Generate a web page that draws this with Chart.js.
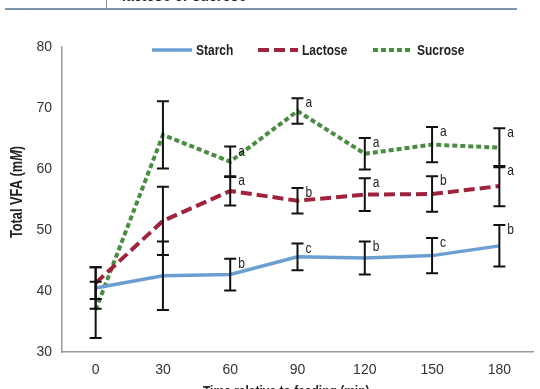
<!DOCTYPE html>
<html>
<head>
<meta charset="utf-8">
<script src="https://cdn.jsdelivr.net/npm/chart.js@4/dist/chart.umd.min.js"></script>
<style>
  body { margin: 0; background: #fff; }
  #wrap { position: relative; width: 540px; height: 389px; overflow: hidden; }
  #rule { position: absolute; left: 5px; top: 8px; width: 512px; height: 2px; background: #7f95ae; }
  #vrule { position: absolute; left: 106px; top: 0; width: 1px; height: 9px; background: #7f95ae; }
  #caption { position: absolute; left: 122px; top: -13px; font: bold 16px "Liberation Sans", Arial, sans-serif; color: #222; white-space: nowrap; transform: scaleX(0.88); transform-origin: left top; }
  canvas { position: absolute; left: 0; top: 0; }
</style>
</head>
<body>
<div id="wrap">
  <div id="caption">lactose or sucrose</div>
  <div id="vrule"></div>
  <div id="rule"></div>
  <canvas id="chart" width="540" height="389"></canvas>
</div>
<script>
  // time points (min)
  const times = ["0", "30", "60", "90", "120", "150", "180"];

  // mean total VFA (mM)
  const starch = [40.5, 42.5, 42.7, 45.6, 45.4, 45.8, 47.4];
  const lactose = [41.3, 51.5, 56.4, 54.8, 55.8, 55.9, 57.2];
  const sucrose = [36.9, 65.6, 61.2, 69.5, 62.5, 64.0, 63.5];

  // error bar half widths
  const starchErr = [3.4, 5.6, 2.6, 2.2, 2.7, 2.9, 3.4];
  const lactoseErr = [2.6, 5.6, 2.4, 2.1, 2.7, 2.9, 3.3];
  const sucroseErr = [4.6, 5.5, 2.5, 2.1, 2.6, 2.9, 3.2];

  // significance letters
  const starchLetters = ["", "", "b", "c", "b", "c", "b"];
  const lactoseLetters = ["", "", "a", "b", "a", "b", "a"];
  const sucroseLetters = ["", "", "a", "a", "a", "a", "a"];

  const yTicks = [30, 40, 50, 60, 70, 80];

  const FONT = '"Liberation Sans", Arial, sans-serif';
  const SQUEEZE = 0.8; // the original uses a condensed face

  const errors = [starchErr, lactoseErr, sucroseErr];
  const letters = [starchLetters, lactoseLetters, sucroseLetters];

  // draw text squeezed horizontally, left edge at x
  function narrowText(ctx, text, x, y, font) {
    ctx.save();
    ctx.font = font;
    ctx.translate(x, y);
    ctx.scale(SQUEEZE, 1);
    ctx.fillText(text, 0, 0);
    ctx.restore();
  }

  // error bars, letters, legend and axis titles
  const extras = {
    id: "extras",
    afterDatasetsDraw(chart) {
      const ctx = chart.ctx;
      const x = chart.scales.x;
      const y = chart.scales.y;
      ctx.save();
      chart.data.datasets.forEach((ds, i) => {
        ds.data.forEach((v, j) => {
          const px = x.getPixelForValue(j);
          const top = y.getPixelForValue(v + errors[i][j]);
          const bot = y.getPixelForValue(v - errors[i][j]);
          ctx.strokeStyle = "#111";
          ctx.lineWidth = 2;
          ctx.setLineDash([]);
          ctx.beginPath();
          ctx.moveTo(px, top);
          ctx.lineTo(px, bot);
          ctx.moveTo(px - 6, top);
          ctx.lineTo(px + 6, top);
          ctx.moveTo(px - 6, bot);
          ctx.lineTo(px + 6, bot);
          ctx.stroke();
          const l = letters[i][j];
          if (l) {
            ctx.fillStyle = "#222";
            ctx.textAlign = "left";
            ctx.textBaseline = "middle";
            narrowText(ctx, l, px + 8, top + 5, "15px " + FONT);
          }
        });
      });
      ctx.restore();
    },
    afterDraw(chart) {
      const ctx = chart.ctx;
      ctx.save();
      // legend
      const legendX = [152, 258, 373];
      const legendY = 50;
      chart.data.datasets.forEach((ds, i) => {
        const lx = legendX[i];
        ctx.strokeStyle = ds.borderColor;
        ctx.lineWidth = ds.borderWidth;
        ctx.setLineDash(ds.borderDash || []);
        ctx.beginPath();
        ctx.moveTo(lx, legendY);
        ctx.lineTo(lx + 40, legendY);
        ctx.stroke();
        ctx.setLineDash([]);
        ctx.fillStyle = "#222";
        ctx.textAlign = "left";
        ctx.textBaseline = "middle";
        narrowText(ctx, ds.label, lx + 44, legendY + 1, "bold 15px " + FONT);
      });
      // y axis title with italic M
      ctx.translate(18, 192);
      ctx.rotate(-Math.PI / 2);
      ctx.scale(SQUEEZE, 1);
      ctx.textBaseline = "middle";
      ctx.textAlign = "left";
      const parts = [["Total VFA (m", "bold 16px "], ["M", "italic bold 16px "], [")", "bold 16px "]];
      let total = 0;
      parts.forEach(p => { ctx.font = p[1] + FONT; total += ctx.measureText(p[0]).width; });
      let cx = -total / 2;
      ctx.fillStyle = "#222";
      parts.forEach(p => {
        ctx.font = p[1] + FONT;
        ctx.fillText(p[0], cx, 0);
        cx += ctx.measureText(p[0]).width;
      });
      ctx.restore();
      // x axis title (cut off by the frame)
      ctx.save();
      ctx.fillStyle = "#222";
      ctx.textAlign = "left";
      ctx.textBaseline = "top";
      narrowText(ctx, "Time relative to feeding (min)", 203, 384, "bold 15px " + FONT);
      ctx.restore();
    }
  };

  new Chart(document.getElementById("chart"), {
    type: "line",
    data: {
      labels: times,
      datasets: [
        { label: "Starch", data: starch, borderColor: "#6b9fd2", borderWidth: 3.5, borderDash: [] },
        { label: "Lactose", data: lactose, borderColor: "#a1233b", borderWidth: 4, borderDash: [11, 5] },
        { label: "Sucrose", data: sucrose, borderColor: "#4b8c43", borderWidth: 4, borderDash: [5, 3] }
      ].map(d => Object.assign(d, { pointRadius: 0, tension: 0, fill: false }))
    },
    options: {
      responsive: false,
      animation: false,
      devicePixelRatio: 1,
      layout: { padding: { left: 0, top: 47, right: 7, bottom: 0 } },
      plugins: { legend: { display: false }, tooltip: { enabled: false } },
      scales: {
        x: {
          offset: true,
          grid: { display: false, drawTicks: false },
          border: { color: "#9a9a9a", width: 1.5 },
          ticks: { color: "#333", font: { family: FONT, size: 14 }, padding: 10 },
          afterFit(s) { s.height = 37; }
        },
        y: {
          min: 30,
          max: 80,
          grid: { display: false, drawTicks: false },
          border: { color: "#9a9a9a", width: 1.5 },
          afterBuildTicks(s) { s.ticks = yTicks.map(v => ({ value: v })); },
          ticks: { color: "#333", font: { family: FONT, size: 14 }, padding: 10 },
          afterFit(s) { s.width = 62; }
        }
      }
    },
    plugins: [extras]
  });
</script>
</body>
</html>
